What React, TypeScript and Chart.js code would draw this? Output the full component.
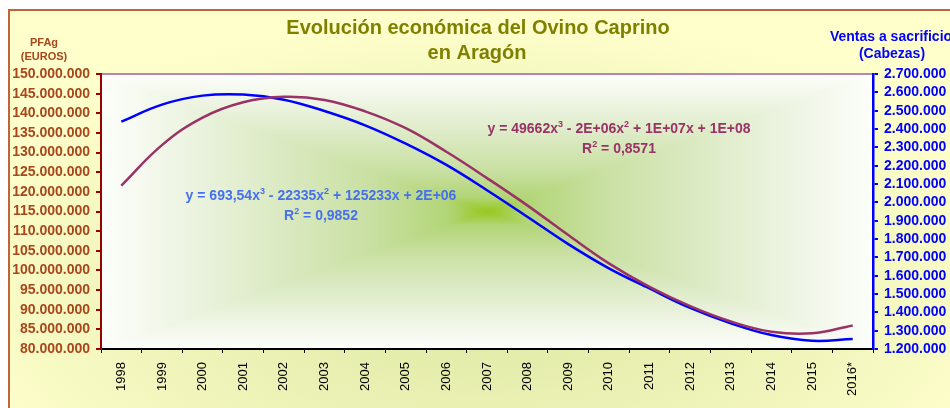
import React, { useEffect, useRef } from 'react';
import { Chart, registerables } from 'chart.js';

Chart.register(...registerables);

const FONT = '"Liberation Sans", Arial, Helvetica, sans-serif';

// ---- data ----
const years = ['1998', '1999', '2000', '2001', '2002', '2003', '2004', '2005', '2006', '2007', '2008', '2009', '2010', '2011', '2012', '2013', '2014', '2015', '2016*'];
// PFAg trend (euros), left axis
const pfagEuros = [121600000, 131900000, 138900000, 142800000, 144200000, 143400000, 140500000, 136200000, 130200000, 123500000, 116500000, 109000000, 101800000, 95800000, 90900000, 87000000, 84400000, 84000000, 86000000];
// Ventas a sacrificio trend (cabezas), right axis
const ventasCabezas = [2440000, 2533000, 2582000, 2588000, 2560000, 2498000, 2420000, 2320000, 2204000, 2066000, 1920000, 1772000, 1640000, 1530000, 1424000, 1340000, 1276000, 1245000, 1254000];

const leftMin = 80000000;
const leftMax = 150000000;
const leftStep = 5000000;
const rightMin = 1200000;
const rightMax = 2700000;
const rightStep = 100000;

const titleLines = ['Evolución económica del Ovino Caprino', 'en Aragón'];
const leftAxisTitle = ['PFAg', '(EUROS)'];
const rightAxisTitle = ['Ventas a sacrificio', '(Cabezas)'];

type Part = [string, boolean];
const blueEquation: Part[] = [['y = 693,54x', false], ['3', true], [' - 22335x', false], ['2', true], [' + 125233x + 2E+06', false]];
const blueR2: Part[] = [['R', false], ['2', true], [' = 0,9852', false]];
const maroonEquation: Part[] = [['y = 49662x', false], ['3', true], [' - 2E+06x', false], ['2', true], [' + 1E+07x + 1E+08', false]];
const maroonR2: Part[] = [['R', false], ['2', true], [' = 0,8571', false]];

// ---- styles ----
const LEFT_COLOR = '#A8461C';
const LEFT_AXIS = '#990000';
const BLUE = '#0000FF';
const MAROON = '#993366';
const EQ_BLUE = '#4570EE';
const TITLE_COLOR = '#808000';

const fmt = (v: number) => Math.round(v).toString().replace(/\B(?=(\d{3})+(?!\d))/g, '.');

function pathGradient(ctx: CanvasRenderingContext2D, L: number, T: number, R: number, B: number, cx: number, cy: number, stops: [number, string][]) {
  const tri = (pts: number[][], x0: number, y0: number) => {
    const g = ctx.createLinearGradient(cx, cy, x0, y0);
    stops.forEach(([o, c]) => g.addColorStop(o, c));
    ctx.fillStyle = g;
    ctx.beginPath();
    ctx.moveTo(pts[0][0], pts[0][1]);
    ctx.lineTo(pts[1][0], pts[1][1]);
    ctx.lineTo(pts[2][0], pts[2][1]);
    ctx.closePath();
    ctx.fill();
  };
  tri([[L, T - 1], [L, B + 1], [cx + 1, cy]], L, cy);
  tri([[R, T - 1], [R, B + 1], [cx - 1, cy]], R, cy);
  tri([[L, T], [R, T], [cx, cy]], cx, T);
  tri([[L, B], [R, B], [cx, cy]], cx, B);
}

function drawRich(ctx: CanvasRenderingContext2D, parts: Part[], cx: number, cy: number, size: number, color: string) {
  const base = `bold ${size}px ${FONT}`;
  const sup = `bold ${Math.round(size * 0.64)}px ${FONT}`;
  let w = 0;
  for (const [t, s] of parts) {
    ctx.font = s ? sup : base;
    w += ctx.measureText(t).width;
  }
  let x = cx - w / 2;
  ctx.fillStyle = color;
  ctx.textBaseline = 'alphabetic';
  ctx.textAlign = 'left';
  const baseline = cy + size * 0.36;
  for (const [t, s] of parts) {
    ctx.font = s ? sup : base;
    ctx.fillText(t, x, s ? baseline - size * 0.42 : baseline);
    x += ctx.measureText(t).width;
  }
}

const decorPlugin = {
  id: 'decor',
  beforeDraw(chart: any) {
    const { ctx, chartArea: a, width, height } = chart;
    ctx.save();
    ctx.fillStyle = '#FFFFFF';
    ctx.fillRect(0, 0, width, height);
    ctx.save();
    ctx.beginPath();
    ctx.rect(9, 10, 960, 420);
    ctx.clip();
    ctx.translate(480, 290);
    ctx.scale(1, 0.5);
    const g = ctx.createRadialGradient(0, 0, 0, 0, 0, 560);
    g.addColorStop(0, '#DCE8A2');
    g.addColorStop(0.55, '#EEF3B8');
    g.addColorStop(1, '#FFFFCC');
    ctx.fillStyle = g;
    ctx.fillRect(-600, -700, 1200, 1400);
    ctx.restore();
    ctx.strokeStyle = '#C0643A';
    ctx.lineWidth = 2;
    ctx.strokeRect(9, 10, 960, 420);
    const cx = (a.left + a.right) / 2;
    const cy = (a.top + a.bottom) / 2;
    pathGradient(ctx, a.left, a.top, a.right, a.bottom, cx, cy, [
      [0, '#95C81C'],
      [0.1, '#B2D577'],
      [0.3, '#C9E0A2'],
      [0.55, '#DCEAC4'],
      [0.8, '#EEF5E4'],
      [1, '#FDFEFB'],
    ]);
    ctx.strokeStyle = '#A0609A';
    ctx.lineWidth = 1.5;
    ctx.strokeRect(a.left, a.top, a.right - a.left, a.bottom - a.top);
    ctx.restore();
  },
  afterDatasetsDraw(chart: any) {
    const { ctx } = chart;
    ctx.save();
    drawRich(ctx, blueEquation, 321, 195, 14, EQ_BLUE);
    drawRich(ctx, blueR2, 321, 215, 14, EQ_BLUE);
    drawRich(ctx, maroonEquation, 619, 128, 14, MAROON);
    drawRich(ctx, maroonR2, 619, 148, 14, MAROON);
    ctx.restore();
  },
  afterDraw(chart: any) {
    const { ctx } = chart;
    ctx.save();
    ctx.textAlign = 'center';
    ctx.textBaseline = 'middle';
    ctx.fillStyle = TITLE_COLOR;
    ctx.font = `bold 20px ${FONT}`;
    ctx.fillText(titleLines[0], 478, 28);
    ctx.fillText(titleLines[1], 477, 53);
    ctx.fillStyle = LEFT_COLOR;
    ctx.font = `bold 11px ${FONT}`;
    ctx.fillText(leftAxisTitle[0], 44, 43);
    ctx.fillText(leftAxisTitle[1], 44, 57);
    ctx.fillStyle = BLUE;
    ctx.font = `bold 14px ${FONT}`;
    ctx.fillText(rightAxisTitle[0], 891, 37);
    ctx.fillText(rightAxisTitle[1], 892, 54);
    ctx.restore();
  },
};

export default function App() {
  const ref = useRef<HTMLCanvasElement>(null);
  useEffect(() => {
    if (!ref.current) return;
    const chart = new Chart(ref.current, {
      type: 'line',
      data: {
        labels: years,
        datasets: [
          {
            label: 'PFAg',
            data: pfagEuros,
            yAxisID: 'yL',
            borderColor: MAROON,
            borderWidth: 2.5,
            pointRadius: 0,
            tension: 0.4,
            fill: false,
          },
          {
            label: 'Ventas a sacrificio',
            data: ventasCabezas,
            yAxisID: 'yR',
            borderColor: BLUE,
            borderWidth: 2.5,
            pointRadius: 0,
            tension: 0.4,
            fill: false,
          },
        ],
      },
      options: {
        animation: false,
        responsive: true,
        maintainAspectRatio: false,
        devicePixelRatio: 1,
        layout: { padding: { top: 74, left: 0, right: 0, bottom: 0 } },
        plugins: { legend: { display: false }, tooltip: { enabled: false }, title: { display: false } },
        scales: {
          x: {
            type: 'category',
            offset: true,
            grid: { offset: true, drawOnChartArea: false, drawTicks: true, tickLength: 4, color: '#000000', lineWidth: 1 },
            border: { display: true, color: '#000000', width: 2 },
            ticks: {
              autoSkip: false,
              maxRotation: 90,
              minRotation: 90,
              color: '#000000',
              font: { family: FONT, size: 13 },
              padding: 9,
            },
            afterFit: (s: any) => {
              s.height = 59;
            },
          },
          yL: {
            type: 'linear',
            position: 'left',
            min: leftMin,
            max: leftMax,
            ticks: {
              stepSize: leftStep,
              maxTicksLimit: 30,
              autoSkip: false,
              color: LEFT_COLOR,
              font: { family: FONT, size: 14, weight: 'bold', lineHeight: 1 },
              padding: 6,
              callback: (v: any) => fmt(Number(v)),
            },
            grid: { drawOnChartArea: false, drawTicks: true, tickLength: 5, color: LEFT_AXIS, lineWidth: 2 },
            border: { display: true, color: LEFT_AXIS, width: 2 },
            afterFit: (s: any) => {
              s.width = 101;
            },
          },
          yR: {
            type: 'linear',
            position: 'right',
            min: rightMin,
            max: rightMax,
            ticks: {
              stepSize: rightStep,
              maxTicksLimit: 30,
              autoSkip: false,
              color: BLUE,
              font: { family: FONT, size: 14, weight: 'bold', lineHeight: 1 },
              padding: 6,
              callback: (v: any) => fmt(Number(v)),
            },
            grid: { drawOnChartArea: false, drawTicks: true, tickLength: 5, color: BLUE, lineWidth: 2 },
            border: { display: true, color: BLUE, width: 2.5 },
            afterFit: (s: any) => {
              s.width = 77;
            },
          },
        },
      },
      plugins: [decorPlugin],
    } as any);
    return () => chart.destroy();
  }, []);
  return (
    <div style={{ position: 'fixed', left: 0, top: 0, width: 950, height: 408 }}>
      <canvas ref={ref} />
    </div>
  );
}
